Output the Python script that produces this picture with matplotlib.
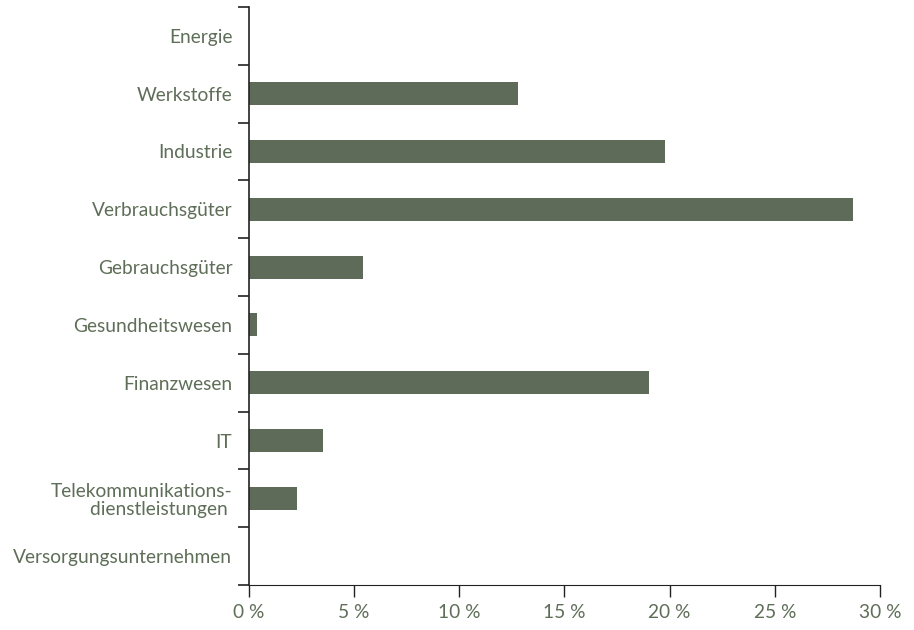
import numpy as np
import matplotlib.pyplot as plt

categories = ["Energie", "Werkstoffe", "Industrie", "Verbrauchsgüter", "Gebrauchsgüter",
              "Gesundheitswesen", "Finanzwesen", "IT",
              "Telekommunikations-\ndienstleistungen ", "Versorgungsunternehmen"]
values = [0.0, 12.8, 19.8, 28.7, 5.4, 0.4, 19.0, 3.5, 2.3, 0.0]
xticks = [0, 5, 10, 15, 20, 25, 30]
xlabels = ["0 %", "5 %", "10 %", "15 %", "20 %", "25 %", "30 %"]

bar_col = "#5d6b58"
txt_col = "#5e6e58"
plt.rcParams['font.family'] = ['Lato', 'DejaVu Sans']

fig = plt.figure(figsize=(9.14, 6.3), dpi=100)
ax = fig.add_axes([0.2724, 0.0714, 0.6904, 0.9175])

n = len(categories)
y = np.arange(n)
ax.barh(y, values, height=0.4, color=bar_col)
ax.set_ylim(n - 0.5, -0.5)
ax.set_xlim(0, 30)

ax.set_yticks(y)
ax.set_yticklabels(categories, fontsize=13.8, color=txt_col, linespacing=1.1)
ax.tick_params(axis='y', which='major', length=0, pad=12)
ax.set_yticks(np.arange(n + 1) - 0.5, minor=True)
ax.tick_params(axis='y', which='minor', length=8, width=1.2, color='#222222', direction='out')

ax.set_xticks(xticks)
ax.set_xticklabels(xlabels, fontsize=13.8, color=txt_col)
ax.tick_params(axis='x', length=8.5, width=1, color='#222222', pad=5)

for s in ['top', 'right']:
    ax.spines[s].set_visible(False)
ax.spines['left'].set_color('#222222')
ax.spines['bottom'].set_color('#222222')
ax.spines['left'].set_linewidth(1.2)

fig.savefig("out.png", dpi=100)
